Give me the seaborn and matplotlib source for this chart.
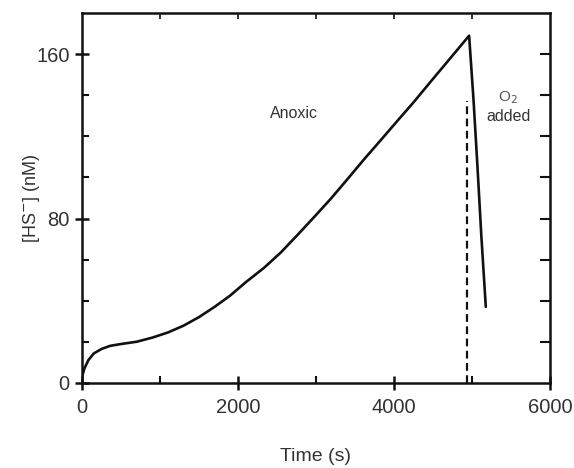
import numpy as np
import pandas as pd
import matplotlib
matplotlib.use("Agg")
import matplotlib.pyplot as plt
import seaborn as sns

# HS- concentration (time in s, concentration in nM)
time_anoxic = [0, 30, 80, 150, 250, 360, 500, 700, 900, 1100, 1300, 1500,
               1700, 1900, 2100, 2334, 2550, 2763, 3000, 3192, 3400, 3621,
               3850, 4050, 4250, 4479, 4700, 4964]
hs_anoxic = [3, 7, 11, 14.3, 16.5, 18.0, 18.9, 20.0, 22.0, 24.5, 27.8, 32.0,
             37.0, 42.5, 49.0, 56.0, 63.5, 72.0, 81.7, 89.7, 99.0, 109.0,
             119.0, 127.8, 136.5, 147.0, 157.0, 169.0]
time_oxic = [4964, 5020, 5070, 5120, 5178]
hs_oxic = [169.0, 138.0, 106.0, 72.0, 37.0]

o2_time = 4935
o2_top = 137

df = pd.DataFrame({
    "time": time_anoxic + time_oxic[1:],
    "hs": hs_anoxic + hs_oxic[1:],
})

sns.set_style("ticks")
plt.rcParams["font.family"] = ["Liberation Sans", "DejaVu Sans"]

fig = plt.figure(figsize=(5.74, 4.68), dpi=100)
ax = fig.add_axes([0.143, 0.182, 0.815, 0.79])

sns.lineplot(data=df, x="time", y="hs", sort=False, color="#111111",
             linewidth=1.9, ax=ax)
ax.plot([o2_time, o2_time], [0, o2_top], color="#111111", linestyle="--",
        linewidth=1.6, dashes=(3.5, 2))

ax.set_xlim(0, 6000)
ax.set_ylim(0, 180)
ax.set_xticks([0, 2000, 4000, 6000])
ax.set_xticks([1000, 3000, 5000], minor=True)
ax.set_yticks([0, 80, 160])
ax.set_yticks([20, 40, 60, 100, 120, 140], minor=True)

for s in ax.spines.values():
    s.set_linewidth(1.8)
    s.set_color("#111111")

ax.tick_params(which="major", direction="inout", length=10, width=1.8,
               labelsize=14.5, labelcolor="#333333", color="#111111", pad=4)
ax.tick_params(axis="x", which="major", pad=6)
ax.tick_params(which="minor", direction="in", length=5, width=1.5,
               color="#111111")

# right and top ticks
sec_y = ax.secondary_yaxis("right")
sec_y.set_yticks([20, 40, 60, 80, 100, 120, 140, 160])
sec_y.tick_params(direction="in", length=7, width=1.5, labelright=False,
                  color="#111111")
sec_y.spines["right"].set_visible(False)
sec_x = ax.secondary_xaxis("top")
sec_x.set_xticks([1000, 2000, 3000, 4000, 5000])
sec_x.tick_params(direction="in", length=4, width=1.2, labeltop=False,
                  color="#111111")
sec_x.spines["top"].set_visible(False)

ax.set_xlabel("Time (s)", fontsize=14, color="#333333", labelpad=22)
ax.set_ylabel("[HS$^{-}$] (nM)", fontsize=13, color="#333333", labelpad=-4)

ax.text(2718, 131, "Anoxic", fontsize=11.5, color="#333333",
        ha="center", va="center")
ax.text(5466, 139, "O$_2$", fontsize=11, color="#555555",
        ha="center", va="center")
ax.text(5466, 129.5, "added", fontsize=11.5, color="#333333",
        ha="center", va="center")

fig.savefig("out.png", dpi=100)
